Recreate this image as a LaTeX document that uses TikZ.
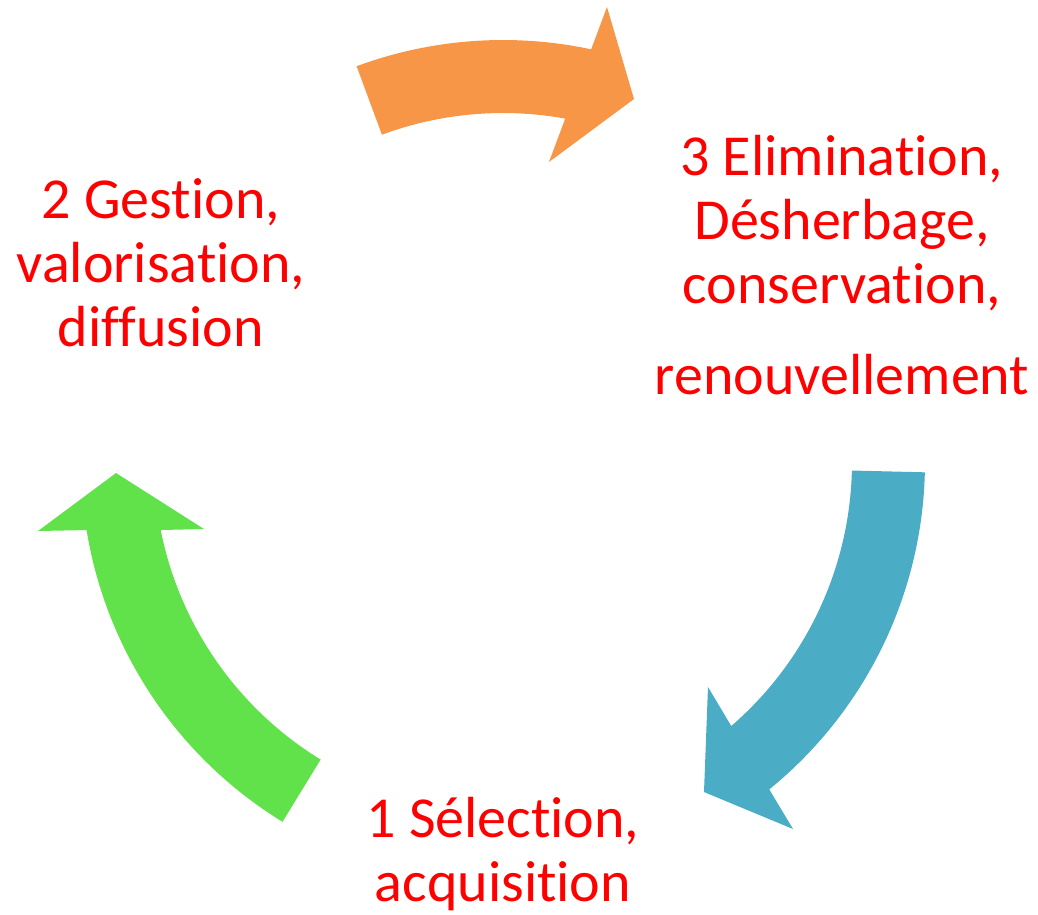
\documentclass[tikz,border=0pt]{standalone}
\usepackage{fontspec}
\setmainfont{Carlito}[Ligatures=NoCommon]
\usetikzlibrary{calc}
\definecolor{arrorange}{RGB}{247,150,70}
\definecolor{arrblue}{RGB}{75,172,198}
\definecolor{arrgreen}{RGB}{98,226,74}
\begin{document}
\begin{tikzpicture}[x=1pt, y=-1pt, steplabel/.style = {align=center, text=red, inner sep=0pt, font=\fontsize{58}{64}\selectfont}, cyclearrow/.style = {draw=none}]
			\useasboundingbox (0,0) rectangle (1038,914);
			\coordinate (c) at (503,462);
			\fill [arrorange, cyclearrow] ($(c)+(-110.3:422)$) arc [start angle=-110.3, end angle=-77.94, radius=422]
				-- (607,7) -- (634,99) -- (549,162)
				-- ($(c)+(-79.73:349)$) arc [start angle=-79.73, end angle=-110.3, radius=349] -- cycle;
			\fill [arrblue, cyclearrow] ($(c)+(1.4:349)$) arc [start angle=1.4, end angle=49.15, radius=349]
				-- (708,687) -- (704,792) -- (793,829)
				-- ($(c)+(50.88:422)$) arc [start angle=50.88, end angle=1.4, radius=422] -- cycle;
			\fill [arrgreen, cyclearrow] ($(c)+(121.5:422)$) arc [start angle=121.5, end angle=170.72, radius=422]
				-- (38,531) -- (116,473) -- (204,529)
				-- ($(c)+(168.76:349)$) arc [start angle=168.76, end angle=121.5, radius=349] -- cycle;
			\node [steplabel] (gest) at (161,263) {2 Gestion,\\valorisation,\\diffusion};
			\node [steplabel] (elim) at (842,265) {3 Elimination,\\Désherbage,\\conservation,\\[27pt]renouvellement};
			\node [steplabel] (sel) at (503,854) {1 Sélection,\\acquisition};
		\end{tikzpicture}
\end{document}
